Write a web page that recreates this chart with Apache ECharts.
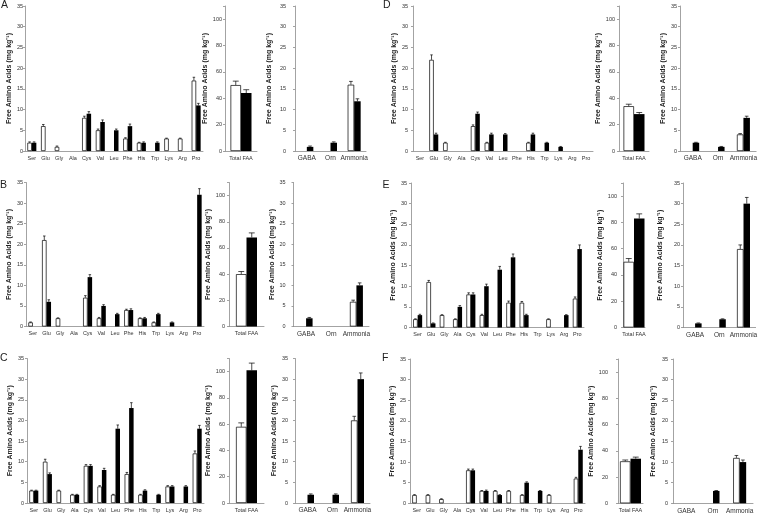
<!DOCTYPE html>
<html>
<head>
<meta charset="utf-8">
<script src="https://cdn.jsdelivr.net/npm/echarts@6/dist/echarts.min.js"></script>
<style>
html, body { margin: 0; padding: 0; background: #fff; }
#chart { width: 760px; height: 516px; }
</style>
</head>
<body>
<div id="chart"></div>
<script>
const aminoAcids = ["Ser", "Glu", "Gly", "Ala", "Cys", "Val", "Leu", "Phe", "His", "Trp", "Lys", "Arg", "Pro"];
const totalCats = ["Total FAA"];
const otherCats = ["GABA", "Orn", "Ammonia"];
const yName = "Free Amino Acids (mg kg\u207B\u00B9)";

// panel A
const aaOpenA = [2, 6, 1, 0, 8, 5, 0, 3, 2, 0, 3, 3, 17];
const aaOpenErrA = [0.2, 0.4, 0.2, 0, 0.4, 0.3, 0, 0.2, 0.1, 0, 0.1, 0.1, 0.8];
const aaSolidA = [2, 0, 0, 0, 9, 7, 5, 6, 2, 2, 0, 0, 11];
const aaSolidErrA = [0.2, 0, 0, 0, 0.5, 0.5, 0.3, 0.5, 0.2, 0.2, 0, 0, 0.5];
const totalA = [50, 44];
const totalErrA = [3, 2.5];
const otherOpenA = [0, 0, 16];
const otherOpenErrA = [0, 0, 0.8];
const otherSolidA = [1, 2, 12];
const otherSolidErrA = [0.2, 0.2, 0.6];

// panel B
const aaOpenB = [1, 21, 2, 0, 7, 2, 0, 4, 2, 1, 0, 0, 0];
const aaOpenErrB = [0.1, 1, 0.1, 0, 0.5, 0.2, 0, 0.2, 0.1, 0.1, 0, 0, 0];
const aaSolidB = [0, 6, 0, 0, 12, 5, 3, 4, 2, 3, 1, 0, 32];
const aaSolidErrB = [0, 0.5, 0, 0, 0.6, 0.3, 0.2, 0.3, 0.2, 0.2, 0.1, 0, 1.5];
const totalB = [40, 68];
const totalErrB = [2, 3.5];
const otherOpenB = [0, 0, 6];
const otherOpenErrB = [0, 0, 0.4];
const otherSolidB = [2, 0, 10];
const otherSolidErrB = [0.2, 0, 0.6];

// panel C
const aaOpenC = [3, 10, 3, 2, 9, 4, 2, 7, 2, 0, 4, 0, 12];
const aaOpenErrC = [0.1, 0.6, 0.1, 0.1, 0.3, 0.2, 0.1, 0.4, 0.1, 0, 0.2, 0, 0.6];
const aaSolidC = [3, 7, 0, 2, 9, 8, 18, 23, 3, 2, 4, 4, 18];
const aaSolidErrC = [0.1, 0.3, 0, 0.1, 0.3, 0.4, 0.9, 1.3, 0.2, 0.1, 0.2, 0.2, 0.8];
const totalC = [58, 101];
const totalErrC = [3, 5.5];
const otherOpenC = [0, 0, 20];
const otherOpenErrC = [0, 0, 1];
const otherSolidC = [2, 2, 30];
const otherSolidErrC = [0.2, 0.2, 1.5];

// panel D
const aaOpenD = [0, 22, 2, 0, 6, 2, 0, 0, 2, 0, 0, 0, 0];
const aaOpenErrD = [0, 1.2, 0.1, 0, 0.3, 0.1, 0, 0, 0.1, 0, 0, 0, 0];
const aaSolidD = [0, 4, 0, 0, 9, 4, 4, 0, 4, 2, 1, 0, 0];
const aaSolidErrD = [0, 0.3, 0, 0, 0.4, 0.3, 0.2, 0, 0.3, 0.1, 0.1, 0, 0];
const totalD = [34, 28];
const totalErrD = [1.5, 1.2];
const otherOpenD = [0, 0, 4];
const otherOpenErrD = [0, 0, 0.2];
const otherSolidD = [2, 1, 8];
const otherSolidErrD = [0.1, 0.1, 0.4];

// panel E
const aaOpenE = [2, 11, 3, 2, 8, 3, 0, 6, 6, 0, 2, 0, 7];
const aaOpenErrE = [0.1, 0.4, 0.1, 0.1, 0.4, 0.2, 0, 0.4, 0.3, 0, 0.1, 0, 0.4];
const aaSolidE = [3, 1, 0, 5, 8, 10, 14, 17, 3, 0, 0, 3, 19];
const aaSolidErrE = [0.2, 0.1, 0, 0.3, 0.4, 0.5, 0.8, 0.8, 0.2, 0, 0, 0.1, 1];
const totalE = [50, 83];
const totalErrE = [2.5, 3.5];
const otherOpenE = [0, 0, 19];
const otherOpenErrE = [0, 0, 1];
const otherSolidE = [1, 2, 30];
const otherSolidErrE = [0.1, 0.1, 1.5];

// panel F
const aaOpenF = [2, 2, 1, 0, 8, 3, 3, 3, 2, 0, 2, 0, 6];
const aaOpenErrF = [0.1, 0.1, 0.1, 0, 0.3, 0.1, 0.1, 0.1, 0.1, 0, 0.1, 0, 0.3];
const aaSolidF = [0, 0, 0, 0, 8, 3, 2, 0, 5, 3, 0, 0, 13];
const aaSolidErrF = [0, 0, 0, 0, 0.3, 0.2, 0.1, 0, 0.2, 0.1, 0, 0, 0.8];
const totalF = [32, 34];
const totalErrF = [1, 1.2];
const otherOpenF = [0, 0, 11];
const otherOpenErrF = [0, 0, 0.6];
const otherSolidF = [0, 3, 10];
const otherSolidErrF = [0, 0.1, 0.5];

const panels = [
    { letter: "A", aa: [aaOpenA, aaOpenErrA, aaSolidA, aaSolidErrA], total: [totalA, totalErrA], other: [otherOpenA, otherOpenErrA, otherSolidA, otherSolidErrA] },
    { letter: "B", aa: [aaOpenB, aaOpenErrB, aaSolidB, aaSolidErrB], total: [totalB, totalErrB], other: [otherOpenB, otherOpenErrB, otherSolidB, otherSolidErrB] },
    { letter: "C", aa: [aaOpenC, aaOpenErrC, aaSolidC, aaSolidErrC], total: [totalC, totalErrC], other: [otherOpenC, otherOpenErrC, otherSolidC, otherSolidErrC] },
    { letter: "D", aa: [aaOpenD, aaOpenErrD, aaSolidD, aaSolidErrD], total: [totalD, totalErrD], other: [otherOpenD, otherOpenErrD, otherSolidD, otherSolidErrD] },
    { letter: "E", aa: [aaOpenE, aaOpenErrE, aaSolidE, aaSolidErrE], total: [totalE, totalErrE], other: [otherOpenE, otherOpenErrE, otherSolidE, otherSolidErrE] },
    { letter: "F", aa: [aaOpenF, aaOpenErrF, aaSolidF, aaSolidErrF], total: [totalF, totalErrF], other: [otherOpenF, otherOpenErrF, otherSolidF, otherSolidErrF] },
];

// pixel layout of each panel: x0/x1 = axis span, m = tick label margin, gap = name gap
const layout = {
    A: { top: 6, bottom: 151, letter: [1, -0.5],
         main: { x0: 25, x1: 203, m: 2, gap: 10.5 }, total: { x0: 225, x1: 257, m: 3, gap: 11.5 }, other: { x0: 295, x1: 366, m: 9, gap: 22 } },
    B: { top: 182.5, bottom: 326.5, letter: [0, 179.5],
         main: { x0: 26, x1: 204, m: 3, gap: 13 }, total: { x0: 229, x1: 264, m: 4, gap: 13.5 }, other: { x0: 293.5, x1: 369, m: 8, gap: 17 } },
    C: { top: 358.5, bottom: 503, letter: [0, 352.5],
         main: { x0: 27, x1: 204, m: 3, gap: 13.5 }, total: { x0: 229, x1: 264, m: 4, gap: 13.5 }, other: { x0: 295, x1: 370, m: 7, gap: 16.5 } },
    D: { top: 6, bottom: 151, letter: [383, -0.5],
         main: { x0: 413, x1: 593, m: 5, gap: 14.5 }, total: { x0: 619, x1: 649, m: 4, gap: 13.5 }, other: { x0: 680, x1: 757, m: 3, gap: 9.5 } },
    E: { top: 183, bottom: 327.5, letter: [382.5, 179.5],
         main: { x0: 411, x1: 584, m: 4, gap: 12.5 }, total: { x0: 623, x1: 645, m: 6, gap: 17.5 }, other: { x0: 683, x1: 757, m: 3, gap: 19.5 } },
    F: { top: 359, bottom: 503.3, letter: [382, 353],
         main: { x0: 410, x1: 585, m: 4, gap: 13.5 }, total: { x0: 618, x1: 643, m: 10, gap: 17.5 }, other: { x0: 673, x1: 753, m: 5, gap: 16.5 } },
};

const axisColor = "#8c8c8c";
const textColor = "#333";

const grids = [];
const xAxes = [];
const yAxes = [];
const series = [];
const graphics = [];

function errorRenderer(barW, side) {
    return (params, api) => {
        const v = api.value(1);
        const e = api.value(2);
        if (!v || !e) {
            return null;
        }
        const base = api.coord([api.value(0), v]);
        const tip = api.coord([api.value(0), v + e]);
        const x = base[0] + side * barW / 2;
        const cap = Math.max(1.2, barW * 0.28);
        const style = { stroke: "#000", lineWidth: 0.7 };
        return {
            type: "group",
            children: [
                { type: "line", shape: { x1: x, y1: base[1], x2: x, y2: tip[1] }, style: style },
                { type: "line", shape: { x1: x - cap, y1: tip[1], x2: x + cap, y2: tip[1] }, style: style },
            ],
        };
    };
}

function addChart(row, box, cats, openVals, openErr, solidVals, solidErr, yMax, step, barW, catFont) {
    const k = grids.length;
    grids.push({ left: box.x0, top: row.top, width: box.x1 - box.x0, height: row.bottom - row.top });
    xAxes.push({
        type: "category",
        gridIndex: k,
        data: cats,
        axisLine: { lineStyle: { color: axisColor, width: 0.8 } },
        axisTick: { show: false },
        axisLabel: { fontSize: catFont, color: textColor, interval: 0, margin: 4 },
    });
    yAxes.push({
        type: "value",
        gridIndex: k,
        min: 0,
        max: yMax,
        interval: step,
        splitLine: { show: false },
        axisLine: { show: true, lineStyle: { color: axisColor, width: 0.8 } },
        axisTick: { show: true, length: 2, lineStyle: { color: axisColor, width: 0.8 } },
        axisLabel: {
            fontSize: 5.5,
            color: textColor,
            margin: box.m,
            formatter: (v) => (v % step === 0 ? String(v) : ""),
        },
        name: yName,
        nameLocation: "middle",
        nameGap: box.gap,
        nameTextStyle: { fontSize: 7, fontWeight: "bold", color: "#222" },
    });

    const sets = [
        [openVals, openErr, { color: "#fff", borderColor: "#000", borderWidth: 0.7 }, -1],
        [solidVals, solidErr, { color: "#000" }, 1],
    ];
    for (const [vals, errs, style] of sets) {
        series.push({
            type: "bar",
            xAxisIndex: k,
            yAxisIndex: k,
            // zero means no bar in the figure
            data: vals.map((v) => (v === 0 ? null : v)),
            barWidth: barW,
            barGap: "0%",
            itemStyle: style,
            silent: true,
        });
    }
    for (const [vals, errs, style, side] of sets) {
        series.push({
            type: "custom",
            xAxisIndex: k,
            yAxisIndex: k,
            data: vals.map((v, i) => [i, v, errs[i]]),
            encode: { x: 0, y: 1 },
            z: 3,
            silent: true,
            renderItem: errorRenderer(barW, side),
        });
    }
}

for (const panel of panels) {
    const row = layout[panel.letter];
    const [aaOpen, aaOpenErr, aaSolid, aaSolidErr] = panel.aa;
    const [total, totalErr] = panel.total;
    const [oOpen, oOpenErr, oSolid, oSolidErr] = panel.other;

    addChart(row, row.main, aminoAcids, aaOpen, aaOpenErr, aaSolid, aaSolidErr, 35, 5, 4.5, 5.5);
    addChart(row, row.total, totalCats, [total[0]], [totalErr[0]], [total[1]], [totalErr[1]], 110, 20, 10.5, 5.5);
    addChart(row, row.other, otherCats, oOpen, oOpenErr, oSolid, oSolidErr, 35, 5, 6.5, 6.5);

    graphics.push({
        type: "text",
        left: row.letter[0],
        top: row.letter[1],
        style: { text: panel.letter, fontSize: 10.5, fill: "#222", fontFamily: "Liberation Sans" },
    });
}

const chart = echarts.init(document.getElementById("chart"), null, { renderer: "canvas" });
chart.setOption({
    animation: false,
    textStyle: { fontFamily: "Liberation Sans, Arial, sans-serif" },
    grid: grids,
    xAxis: xAxes,
    yAxis: yAxes,
    series: series,
    graphic: graphics,
});
</script>
</body>
</html>
